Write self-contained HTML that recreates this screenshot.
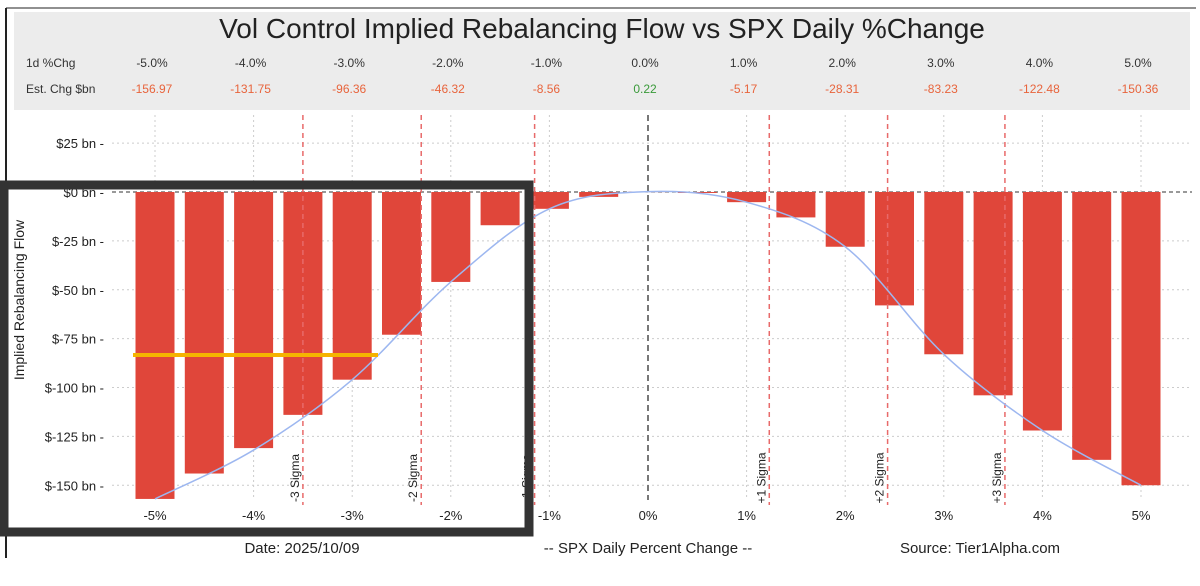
<!DOCTYPE html>
<html><head><meta charset="utf-8"><style>
body{margin:0;background:#fff;font-family:"Liberation Sans",sans-serif}
svg{display:block}
</style></head><body>
<svg id="c" width="1200" height="586" viewBox="0 0 1200 586" xmlns="http://www.w3.org/2000/svg" font-family="Liberation Sans, sans-serif">
<rect x="0" y="0" width="1200" height="586" fill="#fff"/>
<line x1="6" y1="8" x2="6" y2="558" stroke="#222" stroke-width="2"/>
<line x1="6" y1="8" x2="1196" y2="8" stroke="#222" stroke-width="1"/>
<rect x="14" y="12" width="1176" height="98" fill="#ececec"/>
<text x="602" y="38" text-anchor="middle" font-size="28" fill="#222">Vol Control Implied Rebalancing Flow vs SPX Daily %Change</text>
<text x="26" y="67" font-size="12" fill="#333">1d %Chg</text>
<text x="26" y="93" font-size="12" fill="#333">Est. Chg $bn</text>
<g id="hdr"></g>
<g id="grid"></g>
<g id="bars"></g>
<g id="overlay"></g>
<text transform="translate(24,300) rotate(-90)" text-anchor="middle" font-size="14" fill="#222">Implied Rebalancing Flow</text>
<text x="302" y="553" text-anchor="middle" font-size="15" fill="#222">Date: 2025/10/09</text>
<text x="648" y="553" text-anchor="middle" font-size="15" fill="#222">-- SPX Daily Percent Change --</text>
<text x="980" y="553" text-anchor="middle" font-size="15" fill="#222">Source: Tier1Alpha.com</text>
<rect x="4" y="185" width="525" height="347" fill="none" stroke="#333" stroke-width="9"/>
<line x1="133" y1="355" x2="378" y2="355" stroke="#f5b400" stroke-width="4"/>
</svg>
<script>
const hdrPct=["-5.0%","-4.0%","-3.0%","-2.0%","-1.0%","0.0%","1.0%","2.0%","3.0%","4.0%","5.0%"];
const hdrEst=[-156.97,-131.75,-96.36,-46.32,-8.56,0.22,-5.17,-28.31,-83.23,-122.48,-150.36];
const barX=[-5,-4.5,-4,-3.5,-3,-2.5,-2,-1.5,-1,-0.5,0,0.5,1,1.5,2,2.5,3,3.5,4,4.5,5];
const barV=[-157,-144,-131,-114,-96,-73,-46,-17,-8.6,-2.5,0.2,-0.5,-5.2,-13,-28,-58,-83,-104,-122,-137,-150];
const curveX=[-5,-4,-3,-2,-1,0,1,2,3,4,5];
const curveV=[-157,-132,-96,-46,-8.6,0.2,-5.2,-28,-83,-122,-150];
const yTicks=[25,0,-25,-50,-75,-100,-125,-150];
const xTicks=[-5,-4,-3,-2,-1,0,1,2,3,4,5];
const sigmaX=[-3.5,-2.3,-1.15,1.23,2.43,3.62];
const sigmaLab=["-3 Sigma","-2 Sigma","-1 Sigma","+1 Sigma","+2 Sigma","+3 Sigma"];
const NS="http://www.w3.org/2000/svg";
const X=v=>648+v*98.6, Y=v=>192-v*1.955;
function mk(p,t,a){const e=document.createElementNS(NS,t);for(const k in a)e.setAttribute(k,a[k]);p.appendChild(e);return e;}
const hdr=document.getElementById('hdr'),grid=document.getElementById('grid'),bars=document.getElementById('bars'),ov=document.getElementById('overlay');
hdrPct.forEach((s,i)=>{
 const cx=X(-5+i)-3;
 const t=mk(hdr,'text',{x:cx,y:67,'text-anchor':'middle','font-size':12,fill:'#333'});t.textContent=s;
 
 
 const v=hdrEst[i];
 const u=mk(hdr,'text',{x:cx,y:93,'text-anchor':'middle','font-size':12,fill:v>0?'#3a9a3a':'#e8643c'});u.textContent=v.toFixed(2);
 
 
});
yTicks.forEach(v=>{
 const l=mk(grid,'line',{x1:112,x2:1192,y1:Y(v),y2:Y(v),stroke:v===0?'#333':'#ccc','stroke-dasharray':v===0?'4,3':'2,3','stroke-width':1});
 
 
 const t=mk(grid,'text',{x:104,y:Y(v)+5,'text-anchor':'end','font-size':13,fill:'#222'});t.textContent='$'+v+' bn -';
 
 
});
xTicks.forEach(v=>{
 const l=mk(grid,'line',{x1:X(v),x2:X(v),y1:115,y2:500,stroke:v===0?'#777':'#ccc','stroke-dasharray':v===0?'6,4':'2,3','stroke-width':v===0?2:1});
 
 
 const t=mk(grid,'text',{x:X(v),y:520,'text-anchor':'middle','font-size':13,fill:'#222'});t.textContent=v+'%';
 
 
});
barX.forEach((x,i)=>{
 const v=barV[i];const y0=Y(0),y1=Y(v);
 const r=mk(bars,'rect',{x:X(x)-19.5,y:Math.min(y0,y1),width:39,height:Math.max(Math.abs(y1-y0),0.5),fill:'#e0463a'});
 
 
});
sigmaX.forEach((s,i)=>{
 const x=X(s);
 const l=mk(ov,'line',{x1:x,x2:x,y1:115,y2:505,stroke:'#e86a6a','stroke-dasharray':'5,4','stroke-width':1.5});
 
 
 const t=mk(ov,'text',{transform:`translate(${x-4},478) rotate(-90)`,'text-anchor':'middle','font-size':12,fill:'#222'});t.textContent=sigmaLab[i];
 
 
});
const pts=curveX.map((x,i)=>[X(x),Y(curveV[i])]);
let d='M'+pts[0][0]+','+pts[0][1];
for(let i=0;i<pts.length-1;i++){const p0=pts[Math.max(i-1,0)],p1=pts[i],p2=pts[i+1],p3=pts[Math.min(i+2,pts.length-1)];
 d+=` C${p1[0]+(p2[0]-p0[0])/6},${p1[1]+(p2[1]-p0[1])/6} ${p2[0]-(p3[0]-p1[0])/6},${p2[1]-(p3[1]-p1[1])/6} ${p2[0]},${p2[1]}`;}
const c=mk(ov,'path',{d:d,fill:'none',stroke:'#9db7f0','stroke-width':1.5});


</script>
</body></html>
